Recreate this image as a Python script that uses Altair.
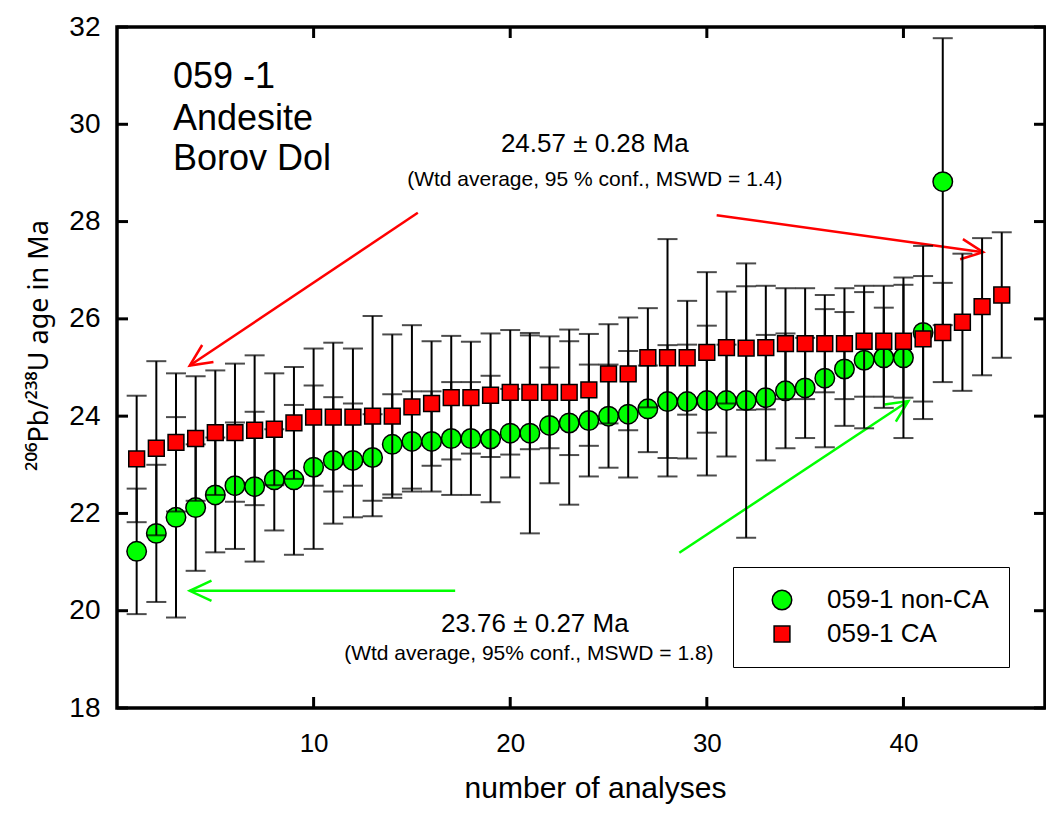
import math
import altair as alt
import pandas as pd

# ---------------- data ----------------
series_names = ["059-1 non-CA", "059-1 CA"]

n_nonca = list(range(1, 43))
age_nonca = [21.22, 21.59, 21.92, 22.12, 22.38, 22.57, 22.55, 22.69, 22.69, 22.95,
             23.09, 23.09, 23.15, 23.42, 23.48, 23.48, 23.54, 23.54, 23.53, 23.65,
             23.65, 23.81, 23.86, 23.91, 24.00, 24.04, 24.15, 24.30, 24.30, 24.32,
             24.32, 24.32, 24.38, 24.52, 24.58, 24.78, 24.97, 25.15, 25.20, 25.20,
             25.72, 28.82]
err_nonca = [1.29, 1.41, 2.06, 1.30, 1.18, 1.30, 1.54, 1.04, 1.54, 1.68,
             1.30, 1.17, 0.89, 1.03, 1.03, 1.03, 1.16, 1.16, 1.30, 0.91,
             2.06, 1.19, 1.68, 1.15, 1.06, 1.30, 0.89, 1.16, 1.17, 1.54,
             1.15, 2.82, 1.29, 1.18, 1.03, 1.42, 1.17, 1.40, 1.03, 1.65,
             1.78, 2.95]

n_ca = list(range(1, 46))
age_ca = [23.12, 23.34, 23.46, 23.54, 23.66, 23.66, 23.71, 23.73, 23.86, 23.98,
          23.98, 23.98, 24.00, 24.00, 24.19, 24.26, 24.38, 24.38, 24.43, 24.49,
          24.49, 24.49, 24.49, 24.54, 24.87, 24.87, 25.20, 25.20, 25.20, 25.31,
          25.41, 25.40, 25.41, 25.49, 25.49, 25.49, 25.49, 25.54, 25.54, 25.54,
          25.59, 25.72, 25.93, 26.25, 26.49]
err_ca = [1.30, 1.79, 1.42, 1.28, 1.28, 1.42, 1.54, 1.15, 1.15, 1.41,
          1.53, 1.41, 2.06, 1.68, 1.68, 1.28, 1.27, 1.15, 1.27, 1.28,
          1.17, 1.15, 1.29, 1.15, 1.02, 1.16, 1.02, 2.44, 1.17, 1.65,
          1.15, 1.27, 1.27, 1.14, 1.14, 1.00, 1.14, 1.14, 1.14, 1.16,
          1.29, 1.02, 1.41, 1.41, 1.29]

x_ticks = [10, 20, 30, 40]
y_ticks = [18, 20, 22, 24, 26, 28, 30, 32]

# annotation arrows (data units): start -> tip
arrow_color = ["#FF0000", "#FF0000", "#00FF00", "#00FF00"]
arrow_x1 = [15.3, 30.5, 17.2, 28.6]
arrow_y1 = [28.18, 28.13, 20.41, 21.19]
arrow_x2 = [3.7, 44.05, 3.7, 40.25]
arrow_y2 = [25.04, 27.37, 20.41, 24.31]

# text annotations (data units)
block_text = ["059 -1", "Andesite", "Borov Dol"]
block_x = [2.85, 2.85, 2.85]
block_y = [30.75, 29.88, 29.06]

note_text = ["24.57 \u00b1 0.28 Ma", "(Wtd average, 95 % conf., MSWD = 1.4)",
             "23.76 \u00b1 0.27 Ma", "(Wtd average, 95% conf., MSWD = 1.8)"]
note_x = [24.3, 24.3, 21.25, 20.95]
note_y = [29.43, 28.73, 19.56, 18.99]
note_size = [26, 21, 26, 21]

# ---------------- layout constants ----------------
W, H = 928, 681
XMAX = 47.2
YMIN, YMAX = 18, 32
FONT = "Liberation Sans"

xs = alt.Scale(domain=[0, XMAX], nice=False, zero=False)
ys = alt.Scale(domain=[YMIN, YMAX], nice=False, zero=False)

AX = alt.Axis(
    values=x_ticks, ticks=False, tickSize=0, domain=False, grid=False,
    labelFontSize=26, labelFont=FONT, labelColor="black", labelPadding=22,
    title="number of analyses", titleFont=FONT, titleFontSize=30,
    titleFontWeight="normal", titleColor="black", titleX=478, titleY=89,
    titleBaseline="alphabetic", titleAlign="center")
AY = alt.Axis(
    values=y_ticks, ticks=False, tickSize=0, domain=False, grid=False,
    labelFontSize=28, labelFont=FONT, labelColor="black", labelPadding=17,
    title="\u00b2\u2070\u2076Pb/\u00b2\u00b3\u2078U age in Ma", titleFont="Noto Sans",
    titleFontSize=27, titleFontWeight="normal", titleColor="black",
    titleX=-70, titleY=318, titleAngle=270, titleBaseline="alphabetic",
    titleAlign="center")


def X(f):
    return alt.X(f, scale=xs, axis=AX)


def Y(f):
    return alt.Y(f, scale=ys, axis=AY)


def frame(n, a, e, s):
    return pd.DataFrame({"n": n, "age": a, "lo": [v - d for v, d in zip(a, e)],
                         "hi": [v + d for v, d in zip(a, e)], "series": s})

df_g = frame(n_nonca, age_nonca, err_nonca, series_names[0])
df_r = frame(n_ca, age_ca, err_ca, series_names[1])

color_scale = alt.Scale(domain=series_names, range=["#00FF00", "#FF0000"])
shape_scale = alt.Scale(domain=series_names, range=["circle", "square"])
size_scale = alt.Scale(domain=series_names, range=[380, 250])

legend = alt.Legend(orient="none", legendX=616, legendY=540, title=None,
                    strokeColor="black", fillColor="white", padding=20,
                    symbolOffset=16, labelOffset=32, rowPadding=8,
                    labelFontSize=26, labelFont=FONT, labelColor="black",
                    symbolStrokeColor="black", symbolStrokeWidth=1.5,
                    labelLimit=400)


def bars(df):
    base = alt.Chart(df)
    rule = base.mark_rule(color="black", strokeWidth=2).encode(
        x=X("n:Q"), y=Y("lo:Q"), y2="hi:Q")
    cap_lo = base.mark_tick(orient="horizontal", size=20, thickness=2, color="black").encode(
        x=X("n:Q"), y=Y("lo:Q"))
    cap_hi = base.mark_tick(orient="horizontal", size=20, thickness=2, color="black").encode(
        x=X("n:Q"), y=Y("hi:Q"))
    return [rule, cap_lo, cap_hi]


def points(df):
    return alt.Chart(df).mark_point(filled=True, opacity=1, stroke="black",
                                    strokeWidth=1.5).encode(
        x=X("n:Q"), y=Y("age:Q"),
        color=alt.Color("series:N", scale=color_scale, legend=legend),
        shape=alt.Shape("series:N", scale=shape_scale, legend=legend),
        size=alt.Size("series:N", scale=size_scale, legend=legend),
    )

# inward tick marks on all four sides
xt = pd.DataFrame({"t": x_ticks})
yt = pd.DataFrame({"t": y_ticks})
tick_w = 3
tick_bottom = alt.Chart(xt).mark_rule(color="black", strokeWidth=tick_w).encode(
    x=X("t:Q"), y=alt.value(H), y2=alt.value(H - 11))
tick_top = alt.Chart(xt).mark_rule(color="black", strokeWidth=tick_w).encode(
    x=X("t:Q"), y=alt.value(0), y2=alt.value(11))
tick_left = alt.Chart(yt).mark_rule(color="black", strokeWidth=tick_w).encode(
    y=Y("t:Q"), x=alt.value(0), x2=alt.value(11))
tick_right = alt.Chart(yt).mark_rule(color="black", strokeWidth=tick_w).encode(
    y=Y("t:Q"), x=alt.value(W), x2=alt.value(W - 11))

# arrows
px_x = W / XMAX
px_y = H / (YMAX - YMIN)
ang = []
for x1, y1, x2, y2 in zip(arrow_x1, arrow_y1, arrow_x2, arrow_y2):
    dx = (x2 - x1) * px_x
    dy = -(y2 - y1) * px_y
    ang.append(math.degrees(math.atan2(dy, dx)) % 360)
arr_df = pd.DataFrame({"x1": arrow_x1, "y1": arrow_y1, "x2": arrow_x2,
                       "y2": arrow_y2, "c": arrow_color, "ang": ang})
arrow_lines = alt.Chart(arr_df).mark_rule(strokeWidth=2.5).encode(
    x=X("x1:Q"), y=Y("y1:Q"), x2="x2:Q", y2="y2:Q",
    color=alt.Color("c:N", scale=None))
chevron = "M -0.906 -0.423 L 0 0 L -0.906 0.423"
arrow_heads = alt.Chart(arr_df).mark_point(shape=chevron, filled=False, size=2304,
                                           strokeWidth=2.5, opacity=1).encode(
    x=X("x2:Q"), y=Y("y2:Q"),
    stroke=alt.Stroke("c:N", scale=None), angle=alt.Angle("ang:Q", scale=None))

# texts
block_df = pd.DataFrame({"t": block_text, "x": block_x, "y": block_y})
block_layer = alt.Chart(block_df).mark_text(align="left", baseline="alphabetic",
                                            font=FONT, fontSize=36, color="black").encode(
    x=X("x:Q"), y=Y("y:Q"), text="t:N")
note_df = pd.DataFrame({"t": note_text, "x": note_x, "y": note_y, "s": note_size})
note_layer = alt.Chart(note_df).mark_text(align="center", baseline="alphabetic",
                                          font=FONT, color="black").encode(
    x=X("x:Q"), y=Y("y:Q"), text="t:N", size=alt.Size("s:Q", scale=None))

layers = ([arrow_lines, arrow_heads, block_layer, note_layer]
          + bars(df_g) + [points(df_g)] + bars(df_r) + [points(df_r)]
          + [tick_bottom, tick_top, tick_left, tick_right])

chart = alt.layer(*layers).properties(
    width=W, height=H,
    autosize=alt.AutoSizeParams(type="none"),
    padding={"left": 109, "top": 19, "right": 1, "bottom": 98},
    background="white",
).configure_view(stroke="black", strokeWidth=3.5).configure_axis(
    labelFont=FONT, titleFont=FONT)

chart.save("out.html", embed_options={"renderer": "svg", "actions": False})
